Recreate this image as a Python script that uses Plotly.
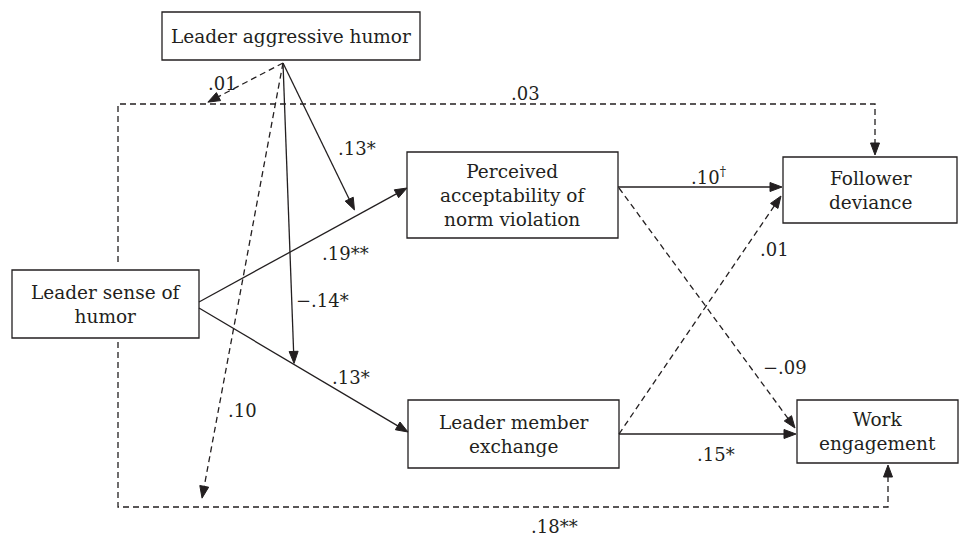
import math
import plotly.graph_objects as go

# ---------------- data ----------------
node_keys = ["agg", "humor", "pav", "lmx", "fd", "we"]
node_labels = [
    "Leader aggressive humor",
    "Leader sense of<br>humor",
    "Perceived<br>acceptability of<br>norm violation",
    "Leader member<br>exchange",
    "Follower<br>deviance",
    "Work<br>engagement",
]

# direct paths (from, to, coefficient, significant?)
path_from = ["humor", "humor", "pav", "pav", "lmx", "lmx", "humor", "humor"]
path_to = ["pav", "lmx", "fd", "we", "fd", "we", "fd", "we"]
path_coef = [".19**", ".13*", ".10<sup>†</sup>", "−.09", ".01", ".15*", ".03", ".18**"]
path_sig = [True, True, True, False, False, True, False, False]

# moderation paths of leader aggressive humor (target path, coefficient, significant?)
mod_target = ["humor-pav", "humor-lmx", "humor-fd", "humor-we"]
mod_coef = [".13*", "−.14*", ".01", ".10"]
mod_sig = [True, True, False, False]

# ---------------- layout / style ----------------
W, H = 960, 536
INK = "#231f20"
FONT = "DejaVu Serif"
BOX = {  # x0, x1, y0, y1 (pixels, y down)
    "agg": (162, 420, 12, 60),
    "humor": (12, 199, 270, 338),
    "pav": (407, 618, 152, 238),
    "lmx": (408, 619, 400, 468),
    "fd": (783, 957, 157, 223),
    "we": (797, 958, 400, 463),
}
# route of each direct path
ROUTE = {
    "humor-pav": [(199, 302), (407, 188)],
    "humor-lmx": [(199, 308), (408, 432)],
    "pav-fd": [(618, 187), (782, 187)],
    "pav-we": [(619, 188), (795, 428)],
    "lmx-fd": [(619, 434), (781, 196)],
    "lmx-we": [(619, 434), (796, 434)],
    "humor-fd": [(118, 262), (118, 104), (875, 104), (875, 155)],
    "humor-we": [(118, 342), (118, 507), (888, 507), (888, 465)],
}
PATH_LABEL_POS = {
    "humor-pav": (345, 253), "humor-lmx": (351, 377), "pav-fd": (708, 176),
    "pav-we": (785, 367), "lmx-fd": (774, 249), "lmx-we": (716, 454),
    "humor-fd": (525, 93), "humor-we": (554, 526),
}
APEX = (283, 63)
# where each moderation arrow lands: (segment index, fraction along it, gap px before line)
MOD_HIT = {"humor-pav": (0, 0.76, 6), "humor-lmx": (0, 0.455, 1),
           "humor-fd": (1, 0.114, 4), "humor-we": (1, 0.107, 9)}
MOD_LABEL_POS = {"humor-pav": (357, 148), "humor-lmx": (322, 300),
                 "humor-fd": (222, 83), "humor-we": (242, 410)}

fig = go.Figure()


def add_line(pts, solid):
    fig.add_trace(go.Scatter(
        x=[p[0] for p in pts], y=[p[1] for p in pts], mode="lines",
        line=dict(color=INK, width=1.3, dash="solid" if solid else "6px,4px"),
        hoverinfo="skip", showlegend=False))


def add_head(p_from, p_tip, length=12, width=9):
    dx, dy = p_tip[0] - p_from[0], p_tip[1] - p_from[1]
    d = math.hypot(dx, dy)
    ux, uy = dx / d, dy / d
    bx, by = p_tip[0] - ux * length, p_tip[1] - uy * length
    nx, ny = -uy * width / 2, ux * width / 2
    xs = [p_tip[0], bx + nx, bx - nx, p_tip[0]]
    ys = [p_tip[1], by + ny, by - ny, p_tip[1]]
    fig.add_trace(go.Scatter(x=xs, y=ys, mode="lines", fill="toself",
                             fillcolor=INK, line=dict(color=INK, width=1),
                             hoverinfo="skip", showlegend=False))


def arrow(pts, solid):
    pts = list(pts)
    a, b = pts[-2], pts[-1]
    dx, dy = b[0] - a[0], b[1] - a[1]
    d = math.hypot(dx, dy)
    trim = 8
    line_pts = pts[:-1] + [(b[0] - dx / d * trim, b[1] - dy / d * trim)]
    add_line(line_pts, solid)
    add_head(a, b)


def label(x, y, text, size=18):
    fig.add_annotation(x=x, y=y, text=text, showarrow=False, xanchor="center",
                       yanchor="middle", font=dict(family=FONT, size=size, color=INK))


# boxes
for key, txt in zip(node_keys, node_labels):
    x0, x1, y0, y1 = BOX[key]
    fig.add_shape(type="rect", x0=x0, x1=x1, y0=y0, y1=y1,
                  line=dict(color=INK, width=1.3), fillcolor="white", layer="below")
    label((x0 + x1) / 2, (y0 + y1) / 2, txt, size=18.5)

# direct paths
for f, t, c, s in zip(path_from, path_to, path_coef, path_sig):
    key = f + "-" + t
    arrow(ROUTE[key], s)
    lx, ly = PATH_LABEL_POS[key]
    label(lx, ly, c)

# moderation paths
for tgt, c, s in zip(mod_target, mod_coef, mod_sig):
    seg, frac, gap = MOD_HIT[tgt]
    r = ROUTE[tgt]
    p, q = r[seg], r[seg + 1]
    hx, hy = p[0] + (q[0] - p[0]) * frac, p[1] + (q[1] - p[1]) * frac
    dx, dy = hx - APEX[0], hy - APEX[1]
    d = math.hypot(dx, dy)
    tip = (hx - dx / d * gap, hy - dy / d * gap)
    arrow([APEX, tip], s)
    lx, ly = MOD_LABEL_POS[tgt]
    label(lx, ly, c)

fig.update_layout(
    width=W, height=H, margin=dict(l=0, r=0, t=0, b=0),
    paper_bgcolor="white", plot_bgcolor="white", showlegend=False,
    xaxis=dict(range=[0, W], visible=False, fixedrange=True),
    yaxis=dict(range=[H, 0], visible=False, fixedrange=True),
)
fig.write_html("out.html", config={"displayModeBar": False},
               post_script="document.body.style.margin='0';document.body.style.overflow='hidden';")
